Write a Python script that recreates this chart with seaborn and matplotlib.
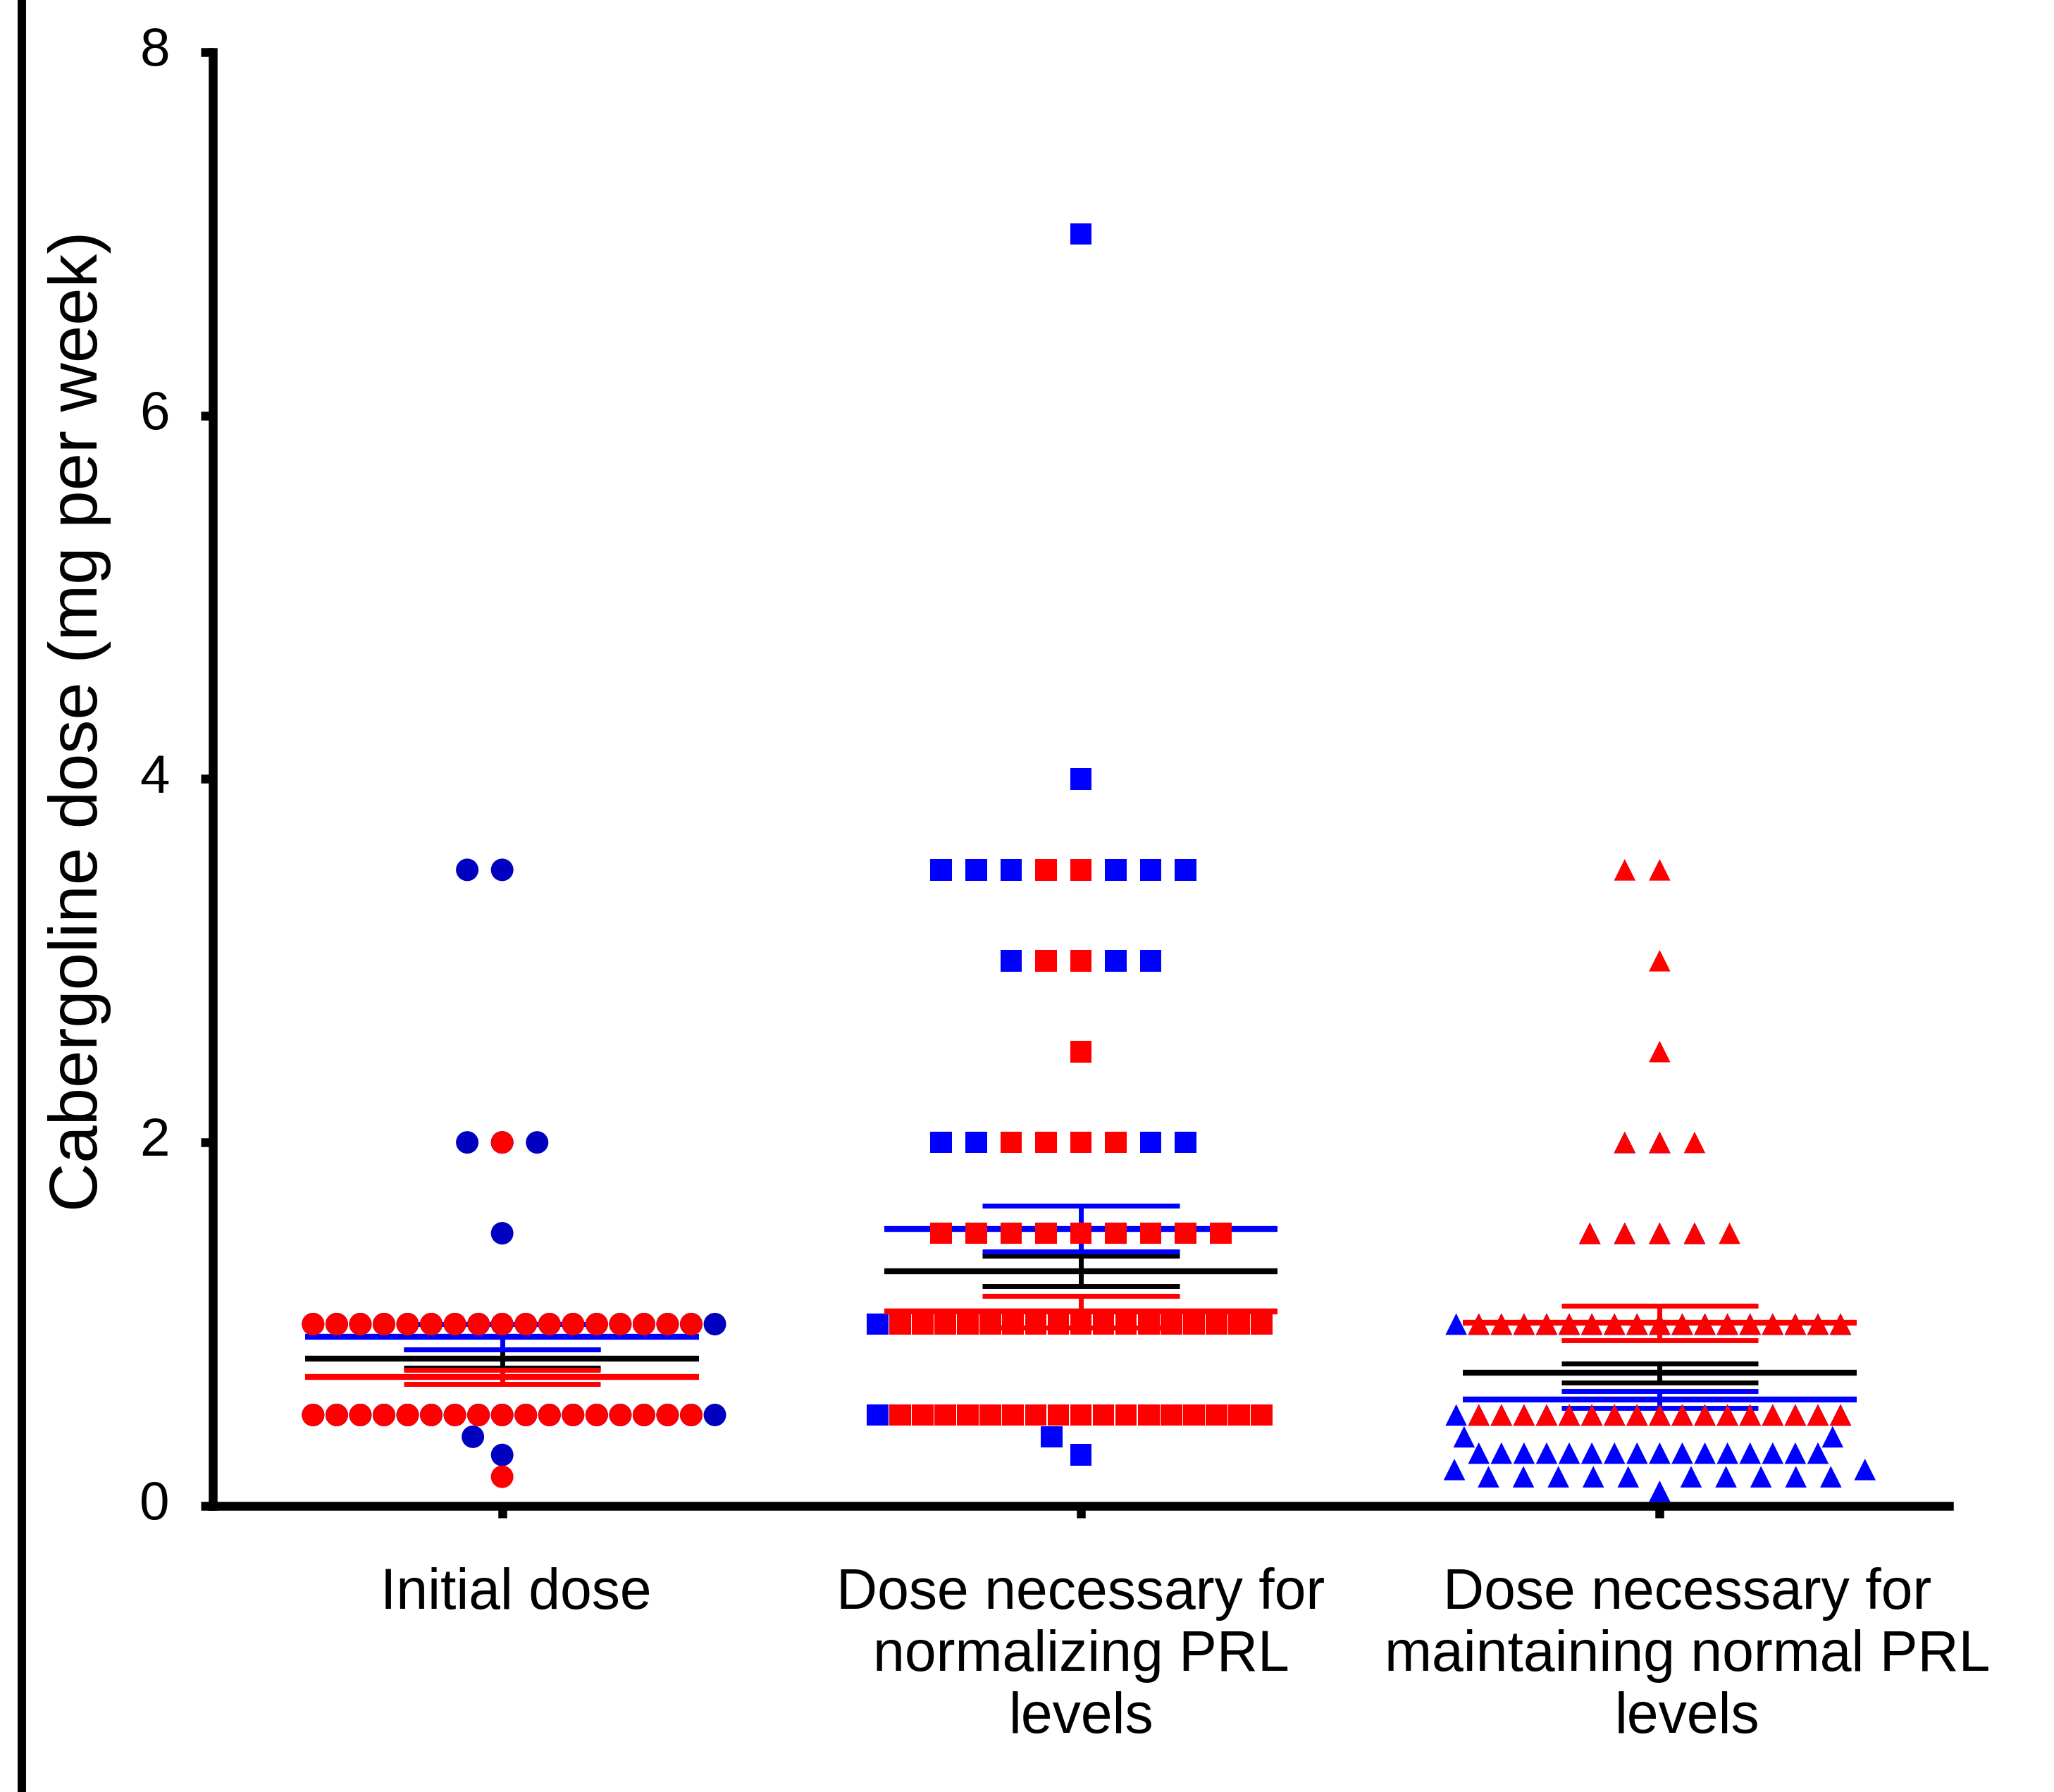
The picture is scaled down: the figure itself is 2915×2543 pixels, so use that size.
import numpy as np
import pandas as pd
import matplotlib
matplotlib.use("Agg")
import matplotlib.pyplot as plt
import matplotlib.transforms as mtransforms
from matplotlib.lines import Line2D
import seaborn as sns
import warnings
warnings.filterwarnings("ignore")

plt.rcParams["font.family"] = ["Liberation Sans", "DejaVu Sans"]

# categories on the x axis
group_keys = ["initial", "normalizing", "maintaining"]
group_labels = ["Initial dose",
                "Dose necessary for\nnormalizing PRL\nlevels",
                "Dose necessary for\nmaintaining normal PRL\nlevels"]

# doses (mg per week) and how many dots sit at each dose, blue and red series
init_blue_dose = [3.5, 2.0, 1.5, 1.0, 0.5, 0.38, 0.28]
init_blue_n = [2, 3, 1, 18, 18, 1, 1]
init_red_dose = [2.0, 1.0, 0.5, 0.16]
init_red_n = [1, 17, 17, 1]

norm_blue_dose = [7.0, 4.0, 3.5, 3.0, 2.5, 2.0, 1.5, 1.0, 0.5, 0.38, 0.28]
norm_blue_n = [1, 1, 8, 5, 1, 8, 8, 18, 18, 1, 1]
norm_red_dose = [3.5, 3.0, 2.5, 2.0, 1.5, 1.0, 0.5]
norm_red_n = [2, 2, 1, 4, 9, 17, 17]

maint_blue_dose = [2.0, 1.5, 1.0, 0.5, 0.38, 0.29, 0.2, 0.16, 0.08]
maint_blue_n = [2, 4, 18, 18, 2, 16, 2, 10, 1]
maint_red_dose = [3.5, 3.0, 2.5, 2.0, 1.5, 1.0, 0.5]
maint_red_n = [2, 1, 1, 3, 5, 17, 17]

# mean +/- SEM lines (one value per group)
blue_mean = [0.93, 1.525, 0.584]
blue_sem = [0.07, 0.125, 0.046]
red_mean = [0.71, 1.068, 1.007]
red_sem = [0.039, 0.087, 0.095]
all_mean = [0.81, 1.292, 0.731]
all_sem = [0.05, 0.084, 0.052]

fig = plt.figure(figsize=(29.15, 25.43), dpi=100)
ax = fig.add_axes([0.1036, 0.1597, 0.8453, 0.8112])

markers = ["o", "s", "^"]
msize = [23, 22, 22]
blue_pts = ["#0000C0", "#0000FF", "#0000FF"]
blue_line = ["#0000FF", "#0000FF", "#0000FF"]
red = "#FF0000"
gap = 34  # centre spacing of dots in the sparse rows (points)

# (group, doses, counts, colour, rows packed tightly, zorder)
series = [
    (0, init_blue_dose, init_blue_n, blue_pts[0], [1.0, 0.5], 2),
    (1, norm_blue_dose, norm_blue_n, blue_pts[1], [1.0, 0.5], 2),
    (2, maint_blue_dose, maint_blue_n, blue_pts[2], [1.0, 0.5, 0.38, 0.29], 2),
    (0, init_red_dose, init_red_n, red, [1.0, 0.5], 4),
    (1, norm_red_dose, norm_red_n, red, [1.0, 0.5], 4),
    (2, maint_red_dose, maint_red_n, red, [1.0, 0.5], 4),
]

for g, dose, n, col, tight_rows, z in series:
    df = pd.DataFrame({"group": group_keys[g], "dose": np.repeat(dose, n)})
    tight = df[df["dose"].isin(tight_rows)]
    loose = df[~df["dose"].isin(tight_rows)]
    for part, lw in [(tight, 0), (loose, gap - msize[g])]:
        if len(part) == 0:
            continue
        sns.swarmplot(data=part, x="group", y="dose", order=group_keys,
                      color=col, marker=markers[g], size=msize[g],
                      linewidth=lw, edgecolor="none", warn_thresh=1,
                      zorder=z, ax=ax)

for coll in ax.collections:
    coll.set_edgecolor("none")

# mean and SEM bars
for i in range(3):
    for mean, sem, col, z in [(all_mean, all_sem, "black", 2.5),
                              (blue_mean, blue_sem, blue_line[i], 3),
                              (red_mean, red_sem, red, 5)]:
        m, s = mean[i], sem[i]
        ax.hlines(m, i - 0.34, i + 0.34, color=col, lw=6, zorder=z)
        ax.hlines([m - s, m + s], i - 0.17, i + 0.17, color=col, lw=5, zorder=z)
        ax.vlines(i, m - s, m + s, color=col, lw=5, zorder=z)

ax.set_xlim(-0.5, 2.5)
ax.set_ylim(0, 8)
ax.set_yticks([0, 2, 4, 6, 8])
ax.set_xticks([0, 1, 2])
ax.set_xticklabels(group_labels, fontsize=58)
ax.tick_params(axis="both", direction="out", length=12, width=9, color="black")
ax.tick_params(axis="y", labelsize=55, pad=32)
ax.tick_params(axis="x", pad=51)
for sp in ["top", "right"]:
    ax.spines[sp].set_visible(False)
for sp in ["left", "bottom"]:
    ax.spines[sp].set_linewidth(9)
    ax.spines[sp].set_color("black")
ax.set_xlabel("")
ax.set_ylabel("Cabergoline dose (mg per week)", fontsize=69)
ax.yaxis.set_label_coords(-0.0584, 0.540)

# small shifts of the tick labels, as in the original
for lab, dx in zip(ax.get_xticklabels(), [14, 0, 28]):
    lab.set_transform(lab.get_transform() +
                      mtransforms.ScaledTranslation(dx / 72, 0, fig.dpi_scale_trans))
for lab in ax.get_yticklabels():
    lab.set_transform(lab.get_transform() +
                      mtransforms.ScaledTranslation(0, 6 / 72, fig.dpi_scale_trans))

# black frame line along the left edge
fig.add_artist(Line2D([31 / 2915, 31 / 2915], [0, 1], transform=fig.transFigure,
                      color="black", lw=8.6))

fig.savefig("out.png", dpi=100)
